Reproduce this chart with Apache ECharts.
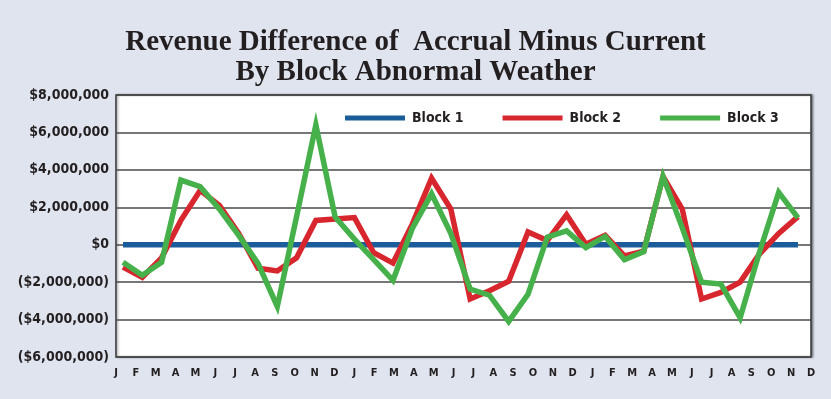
<!DOCTYPE html>
<html><head><meta charset="utf-8">
<script src="https://cdn.jsdelivr.net/npm/echarts@6/dist/echarts.min.js"></script>
<style>html,body{margin:0;padding:0;background:#dfe4ef;}#c{width:831px;height:399px;}</style>
</head><body><div id="c"></div>
<script>
var months = ['J','F','M','A','M','J','J','A','S','O','N','D','J','F','M','A','M','J','J','A','S','O','N','D','J','F','M','A','M','J','J','A','S','O','N','D'];
var block1 = [0,0,0,0,0,0,0,0,0,0,0,0,0,0,0,0,0,0,0,0,0,0,0,0,0,0,0,0,0,0,0,0,0,0,0,0];
var block2 = [-1200000,-1750000,-700000,1300000,2900000,2100000,600000,-1250000,-1400000,-700000,1300000,1380000,1450000,-430000,-980000,1100000,3550000,1900000,-2900000,-2460000,-1950000,680000,220000,1600000,30000,500000,-600000,-350000,3650000,1900000,-2900000,-2550000,-2000000,-500000,600000,1500000];
var block3 = [-940000,-1630000,-940000,3450000,3100000,1900000,500000,-1000000,-3300000,1500000,6400000,1480000,300000,-800000,-1900000,870000,2720000,600000,-2370000,-2700000,-4100000,-2650000,400000,740000,-150000,440000,-800000,-370000,3650000,900000,-2000000,-2100000,-3900000,-400000,2800000,1430000];
var seriesNames = ['Block 1','Block 2','Block 3'];
var yTicks = {min:-6000000, max:8000000, interval:2000000};

function money(v){
  if (v === 0) return '$0';
  var s = '$' + Math.abs(v).toString().replace(/\B(?=(\d{3})+(?!\d))/g, ',');
  return v < 0 ? '(' + s + ')' : s;
}
var lblFont = '"DejaVu Sans Condensed","DejaVu Sans",sans-serif';
var chart = echarts.init(document.getElementById('c'), null, {renderer:'canvas'});
chart.setOption({
  animation:false,
  backgroundColor:'#dfe4ef',
  title:{
    text:'Revenue Difference of  Accrual Minus Current\nBy Block Abnormal Weather',
    left:'center', top:23,
    textStyle:{fontFamily:'"Liberation Serif","Times New Roman",serif', fontWeight:'bold', fontSize:29, lineHeight:30, color:'#231f20'}
  },
  legend:{
    data:seriesNames, left:345, top:111, padding:0, itemWidth:60, itemHeight:5, itemGap:39, icon:'rect',
    textStyle:{fontFamily:lblFont, fontWeight:'bold', fontSize:14, color:'#231f20', padding:[0,0,0,2]}
  },
  grid:[
    {left:116, right:20, top:95, bottom:42, show:true, backgroundColor:'#ffffff', borderColor:'#333333', borderWidth:1.5,
     shadowColor:'rgba(0,0,0,0.35)', shadowBlur:2, shadowOffsetX:1.5, shadowOffsetY:0},
    {left:123, right:33, top:95, bottom:42}
  ],
  xAxis:[
    {gridIndex:0, type:'category', data:months, boundaryGap:false,
     axisLine:{show:false}, axisTick:{show:false}, splitLine:{show:false},
     axisLabel:{interval:0, margin:11, fontFamily:lblFont, fontWeight:'bold', fontSize:11, color:'#231f20'}},
    {gridIndex:1, type:'category', data:months, boundaryGap:false, show:false}
  ],
  yAxis:[
    {gridIndex:0, type:'value', min:yTicks.min, max:yTicks.max, interval:yTicks.interval,
     axisLine:{show:false}, axisTick:{show:false},
     splitLine:{show:true, lineStyle:{color:'#4a4a4a', width:1.5}},
     axisLabel:{margin:7, formatter:money, fontFamily:lblFont, fontWeight:'bold', fontSize:14, color:'#231f20'}},
    {gridIndex:1, type:'value', min:yTicks.min, max:yTicks.max, interval:yTicks.interval, show:false, splitLine:{show:false}}
  ],
  series:[
    {name:seriesNames[0], type:'line', xAxisIndex:1, yAxisIndex:1, data:block1, symbol:'none', color:'#1b5d9a',
     lineStyle:{width:5.5, color:'#1b5d9a', join:'miter'}},
    {name:seriesNames[1], type:'line', xAxisIndex:1, yAxisIndex:1, data:block2, symbol:'none', color:'#d8262f',
     lineStyle:{width:5.5, color:'#d8262f', join:'miter'}},
    {name:seriesNames[2], type:'line', xAxisIndex:1, yAxisIndex:1, data:block3, symbol:'none', color:'#46b04a',
     lineStyle:{width:5.5, color:'#46b04a', join:'miter'}}
  ]
});
</script></body></html>
